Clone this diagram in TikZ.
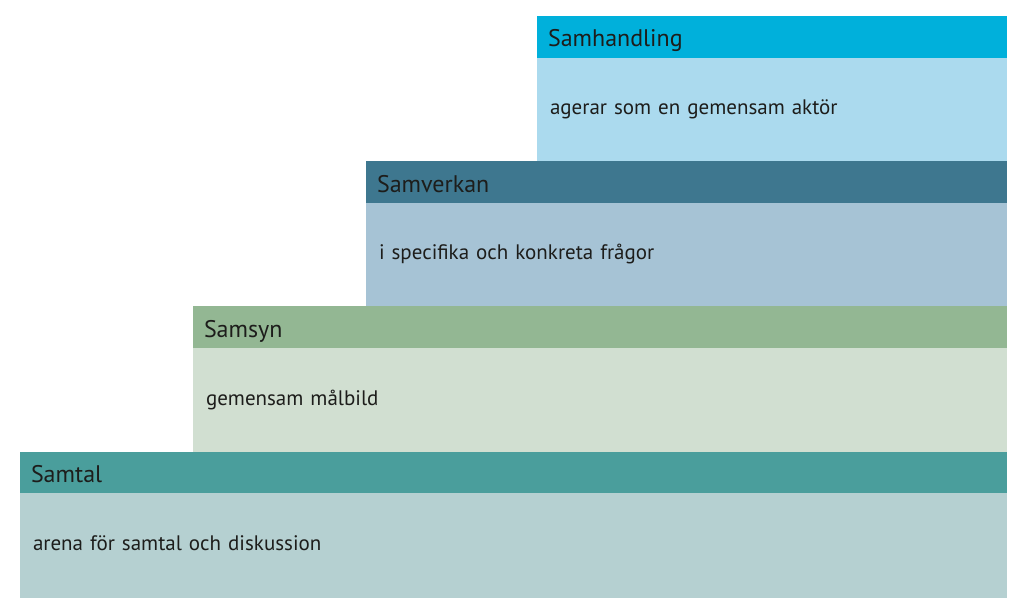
\documentclass[tikz,border=0pt]{standalone}
\usepackage{fontspec}
\setmainfont{PT Sans}
\usepackage{tikz}
\usetikzlibrary{positioning}

\definecolor{handlinghead}{HTML}{00B0DB}
\definecolor{handlingbody}{HTML}{ABDAEE}
\definecolor{verkanhead}{HTML}{3E778F}
\definecolor{verkanbody}{HTML}{A6C3D5}
\definecolor{synhead}{HTML}{93B793}
\definecolor{synbody}{HTML}{D1DFD1}
\definecolor{talhead}{HTML}{4A9E9C}
\definecolor{talbody}{HTML}{B5D0D1}
\definecolor{ink}{HTML}{1D1D1B}

\begin{document}
\begin{tikzpicture}[x=1pt,y=-1pt,
		head/.style={anchor=north west, outer sep=0pt, minimum height=42pt, inner xsep=11pt, inner ysep=0pt, text height=20pt, text depth=0pt, align=left, text=ink, font=\fontsize{24}{28}\selectfont},
		body/.style={anchor=north west, outer sep=0pt, minimum height=104pt, inner xsep=13pt, inner ysep=0pt, text height=15pt, text depth=5pt, align=left, text=ink, font=\fontsize{21}{25}\selectfont}]
		\useasboundingbox (0,0) rectangle (1024,610);
		% stairs, top step first
		\node[head, fill=handlinghead, minimum width=470pt, text width=448pt] (handlingh) at (537,16) {Samhandling}; %% step 4
		\node[body, fill=handlingbody, minimum width=470pt, text width=444pt, minimum height=103pt] (handlingb) at (handlingh.south west) {agerar som en gemensam aktör};
		\node[head, fill=verkanhead, minimum width=641pt, text width=619pt] (verkanh) at (366,161) {Samverkan}; %% step 3
		\node[body, fill=verkanbody, minimum width=641pt, text width=615pt, minimum height=103pt] (verkanb) at (verkanh.south west) {i specifika och konkreta frågor};
		\node[head, fill=synhead, minimum width=814pt, text width=792pt] (synh) at (193,306) {Samsyn}; %% step 2
		\node[body, fill=synbody, minimum width=814pt, text width=788pt] (synb) at (synh.south west) {gemensam målbild};
		\node[head, fill=talhead, minimum width=987pt, text width=965pt, minimum height=41pt] (talh) at (20,452) {Samtal}; %% step 1
		\node[body, fill=talbody, minimum width=987pt, text width=961pt, minimum height=105pt] (talb) at (talh.south west) {arena för samtal och diskussion};
	\end{tikzpicture}
\end{document}
